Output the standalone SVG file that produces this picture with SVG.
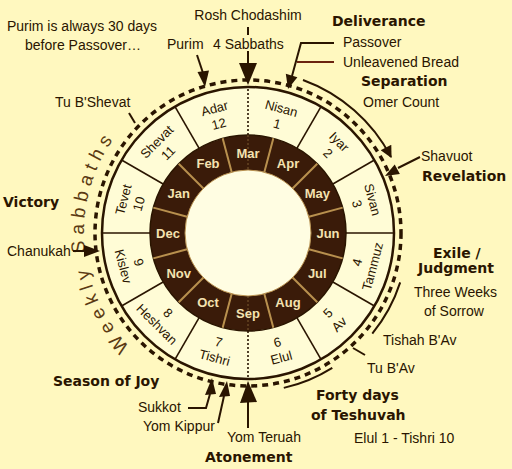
<svg xmlns="http://www.w3.org/2000/svg" width="512" height="469" viewBox="0 0 512 469">
<defs>
<style>
.t{font-family:"Liberation Sans",Arial,sans-serif;font-size:14px;fill:#2a1500}
.b{font-family:"DejaVu Sans",Verdana,sans-serif;font-weight:bold;font-size:14px;fill:#2a1500}
.h{font-family:"Liberation Sans",Arial,sans-serif;font-size:13px;fill:#2a1500;text-anchor:middle}
.g{font-family:"Liberation Sans",Arial,sans-serif;font-weight:bold;font-size:13px;fill:#f4e2b0;text-anchor:middle}
.ln{stroke:#2a1500;stroke-width:2;fill:none}
.ah{fill:#2a1500}
.dv{stroke:#2a1500;stroke-width:1.6}
.gd{stroke:#b8904e;stroke-width:2}
.dot{stroke:#2a1500;stroke-width:1.6;stroke-dasharray:2 2}
</style>
<marker id="arr" viewBox="0 0 10 10" refX="9" refY="5" markerWidth="14" markerHeight="12" markerUnits="userSpaceOnUse" orient="auto">
<path d="M0,0 L10,5 L0,10 z" fill="#2a1500"/>
</marker>
</defs>
<rect width="512" height="469" fill="#fff8bf"/>

<g id="wheel">
<circle cx="248" cy="233" r="153" fill="none" stroke="#2a1500" stroke-width="3.5" stroke-dasharray="6 5"/>
<circle cx="248" cy="233" r="146" fill="#fffcd6" stroke="#2a1500" stroke-width="2.5"/>
<circle cx="248" cy="233" r="98" fill="#3a1b09" stroke="#2a1500" stroke-width="1.5"/>
<circle cx="248" cy="233" r="63" fill="#fffde2" stroke="#b8904e" stroke-width="1"/>
<g id="hebrew-dividers">
<line class="dv" x1="248" y1="135" x2="248" y2="87" transform="rotate(30 248 233)"/>
<line class="dv" x1="248" y1="135" x2="248" y2="87" transform="rotate(60 248 233)"/>
<line class="dv" x1="248" y1="135" x2="248" y2="87" transform="rotate(90 248 233)"/>
<line class="dv" x1="248" y1="135" x2="248" y2="87" transform="rotate(120 248 233)"/>
<line class="dv" x1="248" y1="135" x2="248" y2="87" transform="rotate(150 248 233)"/>
<line class="dv" x1="248" y1="135" x2="248" y2="87" transform="rotate(210 248 233)"/>
<line class="dv" x1="248" y1="135" x2="248" y2="87" transform="rotate(240 248 233)"/>
<line class="dv" x1="248" y1="135" x2="248" y2="87" transform="rotate(270 248 233)"/>
<line class="dv" x1="248" y1="135" x2="248" y2="87" transform="rotate(300 248 233)"/>
<line class="dv" x1="248" y1="135" x2="248" y2="87" transform="rotate(330 248 233)"/>
<line class="dot" x1="248" y1="135" x2="248" y2="87"/>
<line class="dot" x1="248" y1="331" x2="248" y2="379"/>
</g>
<g id="gregorian-dividers">
<line class="gd" x1="248" y1="170" x2="248" y2="135" transform="rotate(15 248 233)"/>
<line class="gd" x1="248" y1="170" x2="248" y2="135" transform="rotate(45 248 233)"/>
<line class="gd" x1="248" y1="170" x2="248" y2="135" transform="rotate(75 248 233)"/>
<line class="gd" x1="248" y1="170" x2="248" y2="135" transform="rotate(105 248 233)"/>
<line class="gd" x1="248" y1="170" x2="248" y2="135" transform="rotate(135 248 233)"/>
<line class="gd" x1="248" y1="170" x2="248" y2="135" transform="rotate(165 248 233)"/>
<line class="gd" x1="248" y1="170" x2="248" y2="135" transform="rotate(195 248 233)"/>
<line class="gd" x1="248" y1="170" x2="248" y2="135" transform="rotate(225 248 233)"/>
<line class="gd" x1="248" y1="170" x2="248" y2="135" transform="rotate(255 248 233)"/>
<line class="gd" x1="248" y1="170" x2="248" y2="135" transform="rotate(285 248 233)"/>
<line class="gd" x1="248" y1="170" x2="248" y2="135" transform="rotate(315 248 233)"/>
<line class="gd" x1="248" y1="170" x2="248" y2="135" transform="rotate(345 248 233)"/>
<line x1="248" y1="135" x2="248" y2="170" stroke="#7a5a30" stroke-width="1" stroke-dasharray="2 2"/>
<line x1="248" y1="296" x2="248" y2="331" stroke="#7a5a30" stroke-width="1" stroke-dasharray="2 2"/>
</g>
</g>

<g id="gregorian-months">
<text class="g" x="248" y="157.5">Mar</text>
<text class="g" x="288" y="168.2">Apr</text>
<text class="g" x="317.3" y="197.5">May</text>
<text class="g" x="328" y="237.5">Jun</text>
<text class="g" x="317.3" y="277.5">Jul</text>
<text class="g" x="288" y="306.8">Aug</text>
<text class="g" x="248" y="317.5">Sep</text>
<text class="g" x="208" y="306.8">Oct</text>
<text class="g" x="178.7" y="277.5">Nov</text>
<text class="g" x="168" y="237.5">Dec</text>
<text class="g" x="178.7" y="197.5">Jan</text>
<text class="g" x="208" y="168.2">Feb</text>
</g>

<g id="hebrew-months">
<g id="nisan" transform="rotate(15 248 233)"><text class="h" x="248" y="108.5">Nisan</text><text class="h" x="248" y="124.5">1</text></g>
<g id="iyar" transform="rotate(45 248 233)"><text class="h" x="248" y="108.5">Iyar</text><text class="h" x="248" y="124.5">2</text></g>
<g id="sivan" transform="rotate(75 248 233)"><text class="h" x="248" y="108.5">Sivan</text><text class="h" x="248" y="124.5">3</text></g>
<g id="tammuz" transform="rotate(-75 248 233)"><text class="h" x="248" y="350.5">4</text><text class="h" x="248" y="366.5">Tammuz</text></g>
<g id="av" transform="rotate(-45 248 233)"><text class="h" x="248" y="350.5">5</text><text class="h" x="248" y="366.5">Av</text></g>
<g id="elul" transform="rotate(-15 248 233)"><text class="h" x="248" y="350.5">6</text><text class="h" x="248" y="366.5">Elul</text></g>
<g id="tishri" transform="rotate(15 248 233)"><text class="h" x="248" y="350.5">7</text><text class="h" x="248" y="366.5">Tishri</text></g>
<g id="heshvan" transform="rotate(45 248 233)"><text class="h" x="248" y="350.5">8</text><text class="h" x="248" y="366.5">Heshvan</text></g>
<g id="kislev" transform="rotate(75 248 233)"><text class="h" x="248" y="350.5">9</text><text class="h" x="248" y="366.5">Kislev</text></g>
<g id="tevet" transform="rotate(-75 248 233)"><text class="h" x="248" y="108.5">Tevet</text><text class="h" x="248" y="124.5">10</text></g>
<g id="shevat" transform="rotate(-45 248 233)"><text class="h" x="248" y="108.5">Shevat</text><text class="h" x="248" y="124.5">11</text></g>
<g id="adar" transform="rotate(-15 248 233)"><text class="h" x="248" y="108.5">Adar</text><text class="h" x="248" y="124.5">12</text></g>
</g>

<g id="weekly-sabbaths">
<path id="wsPath" d="M132,349 A164,164 0 0 1 132,117" fill="none"/>
<text font-family="Liberation Sans, Arial, sans-serif" font-size="19" fill="#5b3a12" letter-spacing="5.5"><textPath href="#wsPath" startOffset="3">Weekly Sabbaths</textPath></text>
</g>

<g id="connectors">
<line class="ln" x1="197" y1="55" x2="203" y2="73"/>
<polygon class="ah" points="197.5,72 209,70.5 205,87"/>
<line class="ln" x1="248" y1="27" x2="248" y2="35" stroke-width="3"/>
<line class="ln" x1="248" y1="51" x2="248" y2="64" stroke-width="3"/>
<polygon class="ah" points="239,63 257,63 248,85"/>
<polyline class="ln" points="334,43 301,43 292,76"/>
<polygon class="ah" points="285.8,73.8 297.4,77.2 288,89"/>
<line x1="297" y1="62" x2="334" y2="62" stroke="#6b2410" stroke-width="2"/>
<path class="ln" d="M303,80 A162,162 0 0 1 391,157" marker-end="url(#arr)"/>
<line class="ln" x1="420" y1="157" x2="398" y2="168"/>
<polygon class="ah" points="399.9,174.1 394.7,164.5 385,176"/>
<line class="ln" x1="73" y1="251" x2="86" y2="251"/>
<polygon class="ah" points="84,245 84,257 100,251"/>
<path class="ln" d="M400.2,282.4 A160,160 0 0 1 372.3,333.7"/>
<path class="ln" d="M332.3,367.8 A159,159 0 0 1 283.8,387.9"/>
<line class="ln" x1="129" y1="113" x2="135" y2="123"/>
<line class="ln" x1="353" y1="348" x2="365" y2="355"/>
<polyline class="ln" points="188,408 206,408 210,394"/>
<polygon class="ah" points="205,395 216,394 212,378"/>
<line class="ln" x1="218" y1="423" x2="224" y2="396"/>
<polygon class="ah" points="219,397 230,396 227,381"/>
<line class="ln" x1="248" y1="428" x2="248" y2="402" stroke-width="2.5"/>
<polygon class="ah" points="240,403 257,402 248,381"/>
</g>

<g id="labels">
<text class="t" x="82" y="31" text-anchor="middle">Purim is always 30 days</text>
<text class="t" x="83" y="50" text-anchor="middle">before Passover…</text>
<text class="t" x="248" y="20" text-anchor="middle">Rosh Chodashim</text>
<text class="t" x="167" y="49">Purim</text>
<text class="t" x="213" y="49">4 Sabbaths</text>
<text class="b" x="332" y="26">Deliverance</text>
<text class="t" x="343" y="47">Passover</text>
<text class="t" x="343" y="67">Unleavened Bread</text>
<text class="b" x="361" y="86">Separation</text>
<text class="t" x="363" y="107">Omer Count</text>
<text class="t" x="55" y="107">Tu B'Shevat</text>
<text class="t" x="421" y="161">Shavuot</text>
<text class="b" x="422" y="181">Revelation</text>
<text class="b" x="3" y="207">Victory</text>
<text class="t" x="7" y="256">Chanukah</text>
<text class="b" x="433" y="258">Exile /</text>
<text class="b" x="418" y="273">Judgment</text>
<text class="t" x="414" y="297">Three Weeks</text>
<text class="t" x="424" y="316">of Sorrow</text>
<text class="t" x="383" y="345">Tishah B'Av</text>
<text class="t" x="367" y="373">Tu B'Av</text>
<text class="b" x="316" y="400">Forty days</text>
<text class="b" x="311" y="420">of Teshuvah</text>
<text class="t" x="354" y="443">Elul 1 - Tishri 10</text>
<text class="t" x="227" y="442">Yom Teruah</text>
<text class="b" x="205" y="462">Atonement</text>
<text class="b" x="53" y="386">Season of Joy</text>
<text class="t" x="138" y="412">Sukkot</text>
<text class="t" x="143" y="431">Yom Kippur</text>
</g>
</svg>
